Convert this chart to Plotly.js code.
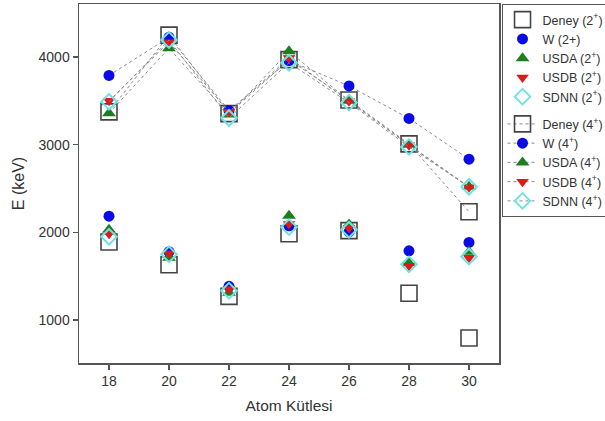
<!DOCTYPE html>
<html>
<head>
<meta charset="utf-8">
<script src="https://cdn.plot.ly/plotly-3.0.1.min.js"></script>
<style>html,body{margin:0;padding:0;background:#fff;}#chart{width:605px;height:421px;}</style>
</head>
<body>
<div id="chart"></div>
<script>
// Atom mass (neon isotopes)
var mass = [18, 20, 22, 24, 26, 28, 30];

// 2+ energies (keV)
var deney2 = [1890, 1630, 1270, 1985, 2020, 1305, 795];
var w2     = [2185, 1780, 1385, 2075, 2005, 1790, 1885];
var usda2  = [2030, 1710, 1310, 2190, 2090, 1650, 1780];
var usdb2  = [1985, 1760, 1355, 2095, 2050, 1620, 1710];
var sdnn2  = [1950, 1750, 1335, 2060, 2030, 1635, 1725];

// 4+ energies (keV)
var deney4 = [3375, 4250, 3355, 3970, 3510, 3010, 2235];
var w4     = [3790, 4225, 3390, 3960, 3670, 3300, 2835];
var usda4  = [3360, 4100, 3345, 4065, 3500, 3000, 2520];
var usdb4  = [3500, 4170, 3375, 3990, 3495, 2995, 2515];
var sdnn4  = [3490, 4195, 3305, 3935, 3480, 2975, 2520];

var xTicks = [18, 20, 22, 24, 26, 28, 30];
var yTicks = [1000, 2000, 3000, 4000];

var names2 = ['Deney (2<sup>+</sup>)', 'W (2+)', 'USDA (2<sup>+</sup>)', 'USDB (2<sup>+</sup>)', 'SDNN (2<sup>+</sup>)'];
var names4 = ['Deney (4<sup>+</sup>)', 'W (4<sup>+</sup>)', 'USDA (4<sup>+</sup>)', 'USDB (4<sup>+</sup>)', 'SDNN (4<sup>+</sup>)'];

var markers = [
  {symbol: 'square-open', size: 16, color: '#444444', line: {width: 1.6, color: '#444444'}},
  {symbol: 'circle', size: 11, color: '#0a0ae6'},
  {symbol: 'triangle-up', size: 12, color: '#1e7d1e'},
  {symbol: 'triangle-down', size: 11, color: '#dd1a1a'},
  {symbol: 'diamond-open', size: 12, color: '#6fe3e3', line: {width: 2, color: '#6fe3e3'}}
];

var data2 = [deney2, w2, usda2, usdb2, sdnn2];
var data4 = [deney4, w4, usda4, usdb4, sdnn4];

var traces = [];
for (var i = 0; i < 5; i++) {
  traces.push({
    x: mass, y: data2[i], type: 'scatter', mode: 'markers',
    name: names2[i], legendgroup: 'g2', marker: markers[i]
  });
}
for (var j = 0; j < 5; j++) {
  traces.push({
    x: mass, y: data4[j], type: 'scatter', mode: 'lines+markers',
    name: names4[j], legendgroup: 'g4', marker: markers[j],
    line: {color: '#8a8a8a', width: 1, dash: 'dot'}
  });
}

var axisCommon = {
  showgrid: false, zeroline: false, showline: true, mirror: true,
  linecolor: '#555555', linewidth: 1.5,
  ticks: 'outside', ticklen: 5, tickcolor: '#555555', tickwidth: 1.5,
  tickfont: {family: 'Arial, "Liberation Sans", sans-serif', size: 14, color: '#333333'}
};

var layout = {
  width: 605, height: 421,
  margin: {l: 79, r: 106, t: 4, b: 58, autoexpand: false},
  paper_bgcolor: '#ffffff', plot_bgcolor: '#ffffff',
  font: {family: 'Arial, "Liberation Sans", sans-serif', color: '#333333'},
  showlegend: true,
  xaxis: Object.assign({}, axisCommon, {
    range: [17, 31], tickvals: xTicks, ticktext: xTicks.map(String),
    title: {text: 'Atom Kütlesi', font: {size: 15.5, color: '#333333'}, standoff: 12}
  }),
  yaxis: Object.assign({}, axisCommon, {
    range: [510, 4605], tickvals: yTicks, ticktext: yTicks.map(String),
    title: {text: 'E (keV)', font: {size: 16, color: '#333333'}, standoff: 10}
  }),
  legend: {
    x: 1.006, xanchor: 'left', xref: 'paper',
    y: 1.0, yanchor: 'top',
    bordercolor: '#555555', borderwidth: 1, bgcolor: '#ffffff',
    font: {size: 12.5, color: '#333333'},
    traceorder: 'grouped', tracegroupgap: 8,
    itemsizing: 'trace'
  }
};

Plotly.newPlot('chart', traces, layout, {displayModeBar: false, staticPlot: true});
</script>
</body>
</html>
